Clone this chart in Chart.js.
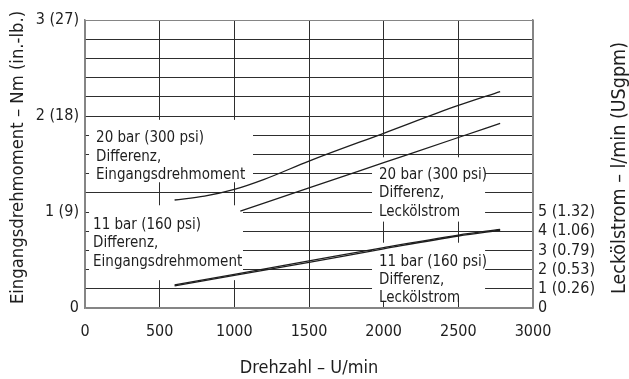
<!DOCTYPE html>
<html>
<head>
<meta charset="utf-8">
<script src="https://cdn.jsdelivr.net/npm/chart.js@4/dist/chart.umd.min.js"></script>
<style>
  html, body { margin: 0; padding: 0; background: #fff; }
  #wrap { width: 629px; height: 379px; }
</style>
</head>
<body>
<div id="wrap"><canvas id="c" width="629" height="379"></canvas></div>
<script>
// Axis ticks and labels
const speedTicks = [0, 500, 1000, 1500, 2000, 2500, 3000];
const torqueTickLabels = ['0', '1 (9)', '2 (18)', '3 (27)'];
const leakTickLabels = ['0', '1 (0.26)', '2 (0.53)', '3 (0.79)', '4 (1.06)', '5 (1.32)'];

// 20 bar (300 psi) differential – input torque, Nm
const rpmTorque20 = [600, 800, 1000, 1200, 1500, 2000, 2500, 2780];
const torque20 = [1.125, 1.165, 1.235, 1.34, 1.53, 1.82, 2.11, 2.255];

// 20 bar (300 psi) differential – leakage flow, l/min
const rpmLeak20 = [1040, 1500, 2000, 2500, 2780];
const leak20 = [5.05, 6.26, 7.57, 8.88, 9.62];

// 11 bar (160 psi) differential – torque (Nm) and leakage (l/min)
const rpm11 = [600, 1000, 1500, 2000, 2500, 2780];
const torque11 = [0.24, 0.35, 0.49, 0.63, 0.76, 0.82];
const leak11 = [1.15, 1.70, 2.38, 3.08, 3.75, 4.05];

const FONT = '"DejaVu Sans Condensed", "Liberation Sans Narrow", sans-serif';
const INK = '#1e1e1e';
const FRAME = '#858585';
const GRID = '#2e2e2e';

Chart.defaults.font.family = FONT;
Chart.defaults.color = INK;

const pts = (xs, ys) => xs.map((x, i) => ({ x, y: ys[i] }));

// Curve captions, placed in axis units (rpm / Nm) on white backing
const notes = [
  { lines: ['20 bar (300 psi)', 'Differenz,', 'Eingangsdrehmoment'],
    textX: 74, textY: [1.768, 1.576, 1.385], box: [27, 1125, 1.31, 1.96] },
  { lines: ['11 bar (160 psi)', 'Differenz,', 'Eingangsdrehmoment'],
    textX: 54, textY: [0.862, 0.672, 0.482], box: [27, 1058, 0.29, 1.07] },
  { lines: ['20 bar (300 psi)', 'Differenz,', 'Leckölstrom'],
    textX: 1969, textY: [1.385, 1.195, 1.003], box: [1922, 2679, 0.90, 1.57] },
  { lines: ['11 bar (160 psi)', 'Differenz,', 'Leckölstrom'],
    textX: 1969, textY: [0.482, 0.292, 0.101], box: [1922, 2679, 0.075, 0.68] }
];

const notesPlugin = {
  id: 'notes',
  beforeDatasetsDraw(chart) {
    const { ctx, scales: { x, y } } = chart;
    ctx.save();
    for (const n of notes) {
      const x0 = x.getPixelForValue(n.box[0]), x1 = x.getPixelForValue(n.box[1]);
      const y0 = y.getPixelForValue(n.box[3]), y1 = y.getPixelForValue(n.box[2]);
      ctx.fillStyle = '#ffffff';
      ctx.fillRect(x0, y0, x1 - x0, y1 - y0);
    }
    ctx.fillStyle = INK;
    ctx.font = '15px ' + FONT;
    ctx.textAlign = 'left';
    ctx.textBaseline = 'middle';
    for (const n of notes) {
      const tx = x.getPixelForValue(n.textX);
      n.lines.forEach((s, i) => ctx.fillText(s, tx, y.getPixelForValue(n.textY[i])));
    }
    ctx.restore();
  }
};

const titlesPlugin = {
  id: 'titles',
  afterDraw(chart) {
    const { ctx, chartArea: a } = chart;
    ctx.save();
    ctx.fillStyle = INK;
    ctx.textAlign = 'center';
    ctx.textBaseline = 'alphabetic';
    ctx.font = '18px ' + FONT;
    ctx.fillText('Drehzahl – U/min', (a.left + a.right) / 2, 373);
    ctx.save();
    ctx.font = '18.3px ' + FONT;
    ctx.translate(22.5, 157.5);
    ctx.rotate(-Math.PI / 2);
    ctx.fillText('Eingangsdrehmoment – Nm (in.-lb.)', 0, 0);
    ctx.restore();
    ctx.save();
    ctx.font = '19.5px ' + FONT;
    ctx.translate(625, 168);
    ctx.rotate(-Math.PI / 2);
    ctx.fillText('Leckölstrom – l/min (USgpm)', 0, 0);
    ctx.restore();
    ctx.restore();
  }
};

const lineStyle = { borderColor: INK, borderWidth: 1.3, pointRadius: 0, fill: false, cubicInterpolationMode: 'monotone' };

new Chart(document.getElementById('c'), {
  type: 'line',
  data: {
    datasets: [
      { ...lineStyle, label: '20 bar Eingangsdrehmoment', data: pts(rpmTorque20, torque20), yAxisID: 'y' },
      { ...lineStyle, label: '20 bar Leckölstrom', data: pts(rpmLeak20, leak20), yAxisID: 'y2' },
      { ...lineStyle, label: '11 bar Eingangsdrehmoment', data: pts(rpm11, torque11), yAxisID: 'y' },
      { ...lineStyle, label: '11 bar Leckölstrom', data: pts(rpm11, leak11), yAxisID: 'y2' }
    ]
  },
  options: {
    responsive: false,
    animation: false,
    events: [],
    layout: { padding: { top: 20, left: 0, right: 0, bottom: 0 } },
    plugins: { legend: { display: false }, tooltip: { enabled: false } },
    scales: {
      x: {
        type: 'linear', min: 0, max: 3000,
        afterBuildTicks: s => { s.ticks = speedTicks.map(v => ({ value: v })); },
        afterFit: s => { s.height = 71; },
        ticks: { font: { size: 16 }, padding: 14, maxRotation: 0, autoSkip: false, color: INK,
                 callback: v => String(v) },
        grid: { drawTicks: false, lineWidth: 1, color: c => (c.tick && (c.tick.value === 3000 || c.tick.value === 0)) ? FRAME : GRID },
        border: { color: FRAME, width: 1.5 }
      },
      y: {
        type: 'linear', position: 'left', min: 0, max: 3,
        afterFit: s => { s.width = 85; },
        ticks: {
          stepSize: 0.2, autoSkip: false, padding: 6, color: INK, font: { size: 16 },
          callback: v => Math.abs(v - Math.round(v)) < 1e-6 ? torqueTickLabels[Math.round(v)] : ''
        },
        grid: { drawTicks: false, lineWidth: 1, color: c => (c.tick && (Math.abs(c.tick.value - 3) < 1e-6 || c.tick.value === 0)) ? FRAME : GRID },
        border: { color: FRAME, width: 1.5 }
      },
      y2: {
        type: 'linear', position: 'right', min: 0, max: 15,
        afterFit: s => { s.width = 96; },
        ticks: {
          stepSize: 1, autoSkip: false, padding: 5, color: INK, font: { size: 16 },
          callback: v => leakTickLabels[v] !== undefined ? leakTickLabels[v] : ''
        },
        grid: { display: false, drawTicks: false },
        border: { color: FRAME, width: 1.5 }
      }
    }
  },
  plugins: [notesPlugin, titlesPlugin]
});
</script>
</body>
</html>
